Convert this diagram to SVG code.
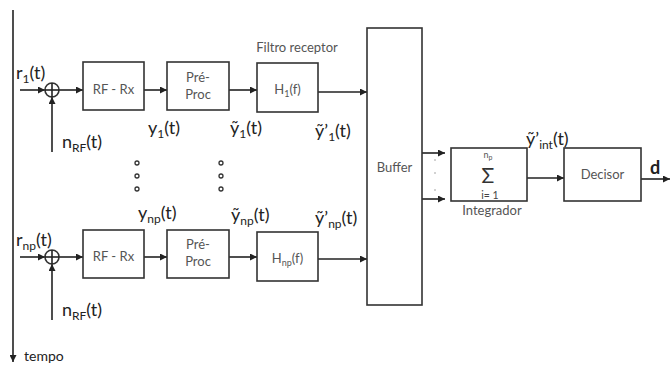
<svg xmlns="http://www.w3.org/2000/svg" width="670" height="365" viewBox="0 0 670 365">
<defs>
<marker id="ah" viewBox="0 0 10 10" refX="10" refY="5" markerWidth="7" markerHeight="7" markerUnits="userSpaceOnUse" orient="auto">
<path d="M0,0 L10,5 L0,10 Z" fill="#222"/>
</marker>
</defs>
<style>
.box{fill:#fff;stroke:#333;stroke-width:1.6}
.ln{fill:none;stroke:#222;stroke-width:1.6}
.arr{fill:none;stroke:#222;stroke-width:1.6;marker-end:url(#ah)}
.bl{font-family:Lato,"Noto Sans","Liberation Sans",sans-serif;font-size:13px;fill:#555;text-anchor:middle}
.sig{font-family:Lato,"Noto Sans","Liberation Sans",sans-serif;font-size:18px;fill:#222}
.sub{font-size:12px}
.ssub{font-size:9px}
.dot{fill:#fff;stroke:#333;stroke-width:1.3}
</style>
<rect width="670" height="365" fill="#fff"/>

<g id="connectors">
<line class="arr" x1="13" y1="10" x2="13" y2="362"/>
<line class="arr" x1="20" y1="90" x2="45" y2="90"/>
<line class="arr" x1="52" y1="152" x2="52" y2="97"/>
<line class="arr" x1="59" y1="90" x2="83" y2="90"/>
<line class="arr" x1="144" y1="90" x2="167" y2="90"/>
<line class="arr" x1="229" y1="90" x2="257" y2="90"/>
<line class="arr" x1="318" y1="92" x2="367" y2="92"/>
<line class="arr" x1="20" y1="257" x2="45" y2="257"/>
<line class="arr" x1="52" y1="320" x2="52" y2="264"/>
<line class="arr" x1="59" y1="257" x2="83" y2="257"/>
<line class="arr" x1="144" y1="257" x2="167" y2="257"/>
<line class="arr" x1="229" y1="257" x2="257" y2="257"/>
<line class="arr" x1="318" y1="259" x2="367" y2="259"/>
<line class="arr" x1="422" y1="153" x2="445" y2="153"/>
<line class="arr" x1="422" y1="199" x2="445" y2="199"/>
<line class="arr" x1="527" y1="178" x2="564" y2="178"/>
<line class="arr" x1="641" y1="179" x2="670" y2="179"/>
</g>

<g id="sum1">
<circle class="box" cx="52" cy="90" r="7"/>
<line class="ln" x1="45" y1="90" x2="59" y2="90"/>
<line class="ln" x1="52" y1="83" x2="52" y2="97"/>
</g>
<g id="sum2">
<circle class="box" cx="52" cy="257" r="7"/>
<line class="ln" x1="45" y1="257" x2="59" y2="257"/>
<line class="ln" x1="52" y1="250" x2="52" y2="264"/>
</g>

<g id="rfrx1"><rect class="box" x="83" y="62" width="61" height="48"/><text class="bl" x="113.5" y="94">RF - Rx</text></g>
<g id="preproc1"><rect class="box" x="167" y="62" width="62" height="48"/><text class="bl" x="198" y="82">Pré-</text><text class="bl" x="198" y="99">Proc</text></g>
<g id="h1"><rect class="box" x="257" y="63" width="61" height="49"/><text class="bl" x="287.5" y="94">H<tspan class="ssub" dy="3">1</tspan><tspan dy="-3">(f)</tspan></text></g>
<g id="rfrx2"><rect class="box" x="83" y="230" width="61" height="48"/><text class="bl" x="113.5" y="261">RF - Rx</text></g>
<g id="preproc2"><rect class="box" x="167" y="230" width="62" height="48"/><text class="bl" x="198" y="249">Pré-</text><text class="bl" x="198" y="266">Proc</text></g>
<g id="hnp"><rect class="box" x="257" y="232" width="61" height="49"/><text class="bl" x="287.5" y="263">H<tspan class="ssub" dy="3">np</tspan><tspan dy="-3">(f)</tspan></text></g>
<g id="buffer"><rect class="box" x="367" y="28" width="55" height="277"/><text class="bl" x="394.5" y="172">Buffer</text></g>
<g id="integrador"><rect class="box" x="451" y="148" width="76" height="53"/>
<text class="bl" x="488" y="158" style="font-size:9px">n<tspan dy="2" style="font-size:7px">p</tspan></text>
<text class="bl" x="488" y="183" style="font-size:21px;fill:#333">Σ</text>
<text class="bl" x="490" y="199" style="font-size:10.5px;fill:#444">i= 1</text>
<text class="bl" x="492" y="215">Integrador</text></g>
<g id="decisor"><rect class="box" x="564" y="148" width="77" height="53"/><text class="bl" x="602.5" y="179">Decisor</text></g>

<g id="dots">
<circle class="dot" cx="137" cy="163" r="2"/><circle class="dot" cx="137" cy="176" r="2"/><circle class="dot" cx="137" cy="189" r="2"/>
<circle class="dot" cx="221" cy="163" r="2"/><circle class="dot" cx="221" cy="176" r="2"/><circle class="dot" cx="221" cy="189" r="2"/>
<circle cx="435" cy="160" r="0.8" fill="#999"/><circle cx="435" cy="173" r="0.8" fill="#999"/><circle cx="435" cy="190" r="0.8" fill="#999"/>
</g>

<g id="labels">
<text class="bl" x="297" y="52">Filtro receptor</text>
<text class="sig" x="16" y="79">r<tspan class="sub" dy="4">1</tspan><tspan dy="-4">(t)</tspan></text>
<text class="sig" x="62" y="148">n<tspan class="sub" dy="4">RF</tspan><tspan dy="-4">(t)</tspan></text>
<text class="sig" x="148" y="134">y<tspan class="sub" dy="4">1</tspan><tspan dy="-4">(t)</tspan></text>
<text class="sig" x="230" y="134">ỹ<tspan class="sub" dy="4">1</tspan><tspan dy="-4">(t)</tspan></text>
<text class="sig" x="315" y="137">ỹ’<tspan class="sub" dy="4">1</tspan><tspan dy="-4">(t)</tspan></text>
<text class="sig" x="16" y="246">r<tspan class="sub" dy="4">np</tspan><tspan dy="-4">(t)</tspan></text>
<text class="sig" x="62" y="316">n<tspan class="sub" dy="4">RF</tspan><tspan dy="-4">(t)</tspan></text>
<text class="sig" x="138" y="219">y<tspan class="sub" dy="4">np</tspan><tspan dy="-4">(t)</tspan></text>
<text class="sig" x="231" y="221">ỹ<tspan class="sub" dy="4">np</tspan><tspan dy="-4">(t)</tspan></text>
<text class="sig" x="315" y="224">ỹ’<tspan class="sub" dy="4">np</tspan><tspan dy="-4">(t)</tspan></text>
<text class="sig" x="526" y="145">ỹ’<tspan class="sub" dy="4">int</tspan><tspan dy="-4">(t)</tspan></text>
<text class="sig" x="650" y="174" style="font-weight:bold">d</text>
<text class="sig" x="24" y="361" style="font-size:14px">tempo</text>
</g>
</svg>
